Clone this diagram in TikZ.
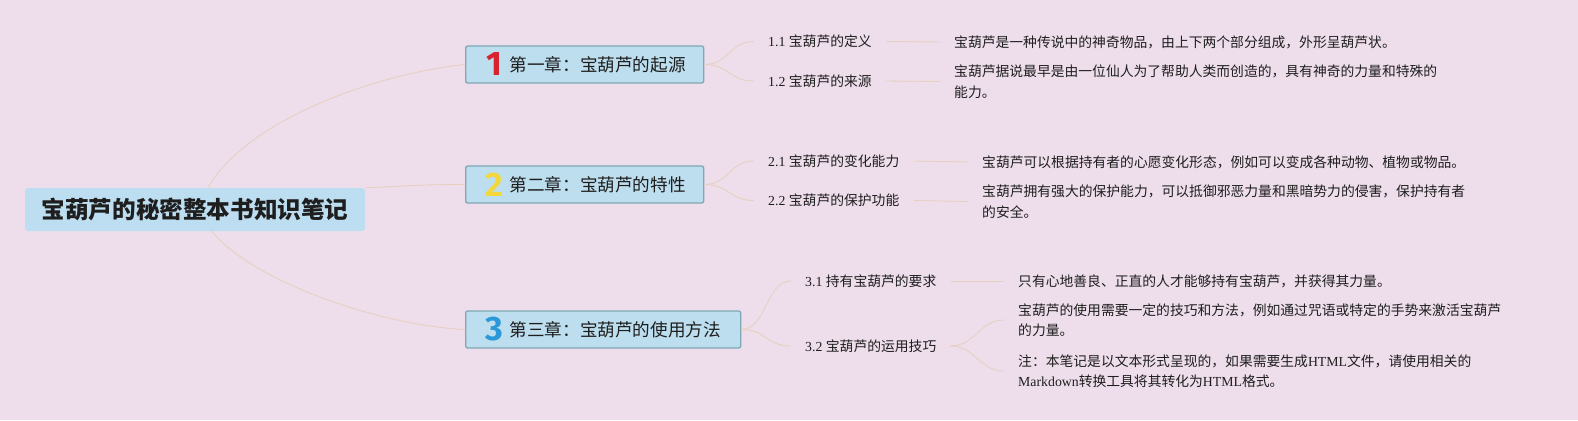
\documentclass[tikz,border=0pt]{standalone}
\usepackage{fontspec}
\setmainfont{Liberation Serif}
\newfontfamily\cjk{Noto Sans CJK SC}
\newfontfamily\digitfont{Fira Sans}
\definecolor{bgc}{RGB}{238,222,236}
\definecolor{boxfill}{RGB}{189,222,238}
\definecolor{boxline}{RGB}{127,168,180}
\definecolor{rootfill}{RGB}{189,222,240}
\definecolor{linkc}{RGB}{230,208,192}
\definecolor{txt}{RGB}{30,30,30}
\definecolor{redone}{RGB}{216,35,47}
\definecolor{yellowtwo}{RGB}{242,216,60}
\definecolor{bluethree}{RGB}{43,152,217}
\tikzset{
  link/.style={draw=linkc, line width=0.9pt},
  rootbox/.style={fill=rootfill, rounded corners=3pt, minimum width=340pt, minimum height=43pt, inner sep=0pt,
    text=txt, font=\cjk\bfseries\fontsize{23.6}{26}\selectfont},
  chbox/.style={fill=boxfill, draw=boxline, line width=1.3pt, rounded corners=2pt, minimum height=37pt, inner sep=0pt, anchor=west},
  chtext/.style={anchor=west, inner sep=0pt, text=txt, font=\cjk\fontsize{17.6}{20}\selectfont},
  digit/.style={inner sep=0pt, font=\digitfont\bfseries\fontsize{34}{36}\selectfont},
  lab/.style={anchor=west, inner xsep=14pt, inner ysep=2pt, text=txt, font=\fontsize{13.8}{20}\selectfont},
  desc/.style={anchor=west, inner xsep=14pt, inner ysep=2pt, align=left, text=txt, font=\fontsize{13.8}{20.5}\selectfont},
}
\newcommand{\zh}[1]{{\cjk #1}}
\begin{document}
\begin{tikzpicture}[x=1pt,y=-1pt]
\fill[bgc] (0,0) rectangle (1578,420);
\useasboundingbox (0,0) rectangle (1578,420);

% root
\node[rootbox] (root) at (195,209.5) {宝葫芦的秘密整本书知识笔记};

% chapters
\node[chbox, minimum width=238pt] (ch1) at (465,64.5) {};
\node[digit, text=redone] (d1) at (494,64.5) {1};
\node[chtext] (t1) at (509.5,64.5) {第一章：宝葫芦的起源};

\node[chbox, minimum width=238pt] (ch2) at (465,184.5) {};
\node[digit, text=yellowtwo] (d2) at (494,184.5) {2};
\node[chtext] (t2) at (509.5,184.5) {第二章：宝葫芦的特性};

\node[chbox, minimum width=275pt] (ch3) at (465,329.5) {};
\node[digit, text=bluethree] (d3) at (494,329.5) {3};
\node[chtext] (t3) at (509.5,329.5) {第三章：宝葫芦的使用方法};

% root links
\draw[link] ([xshift=183pt]root.north west) .. controls +(42,-72) and +(-80,8) .. (ch1.west);
\draw[link] (root.north east) .. controls +(50,-2) and +(-50,0) .. (ch2.west);
\draw[link] ([xshift=187pt]root.south west) .. controls +(40,50) and +(-85,-4) .. (ch3.west);

% labels
\node[lab] (l11) at (754,41.5) {1.1 \zh{宝葫芦的定义}};
\node[lab] (l12) at (754,81) {1.2 \zh{宝葫芦的来源}};
\node[lab] (l21) at (754,161) {2.1 \zh{宝葫芦的变化能力}};
\node[lab] (l22) at (754,200.5) {2.2 \zh{宝葫芦的保护功能}};
\node[lab] (l31) at (791,281) {3.1 \zh{持有宝葫芦的要求}};
\node[lab] (l32) at (791,346) {3.2 \zh{宝葫芦的运用技巧}};

\foreach \c/\l in {ch1/l11, ch1/l12, ch2/l21, ch2/l22, ch3/l31, ch3/l32}
  \draw[link] (\c.east) .. controls +(25,0) and +(-25,0) .. (\l.west);

% descriptions
\node[desc] (e11) at (940,42) {\zh{宝葫芦是一种传说中的神奇物品，由上下两个部分组成，外形呈葫芦状。}};
\node[desc] (e12) at (940,81.5) {\zh{宝葫芦据说最早是由一位仙人为了帮助人类而创造的，具有神奇的力量和特殊的}\\\zh{能力。}};
\node[desc] (e21) at (968,162) {\zh{宝葫芦可以根据持有者的心愿变化形态，例如可以变成各种动物、植物或物品。}};
\node[desc] (e22) at (968,201.5) {\zh{宝葫芦拥有强大的保护能力，可以抵御邪恶力量和黑暗势力的侵害，保护持有者}\\\zh{的安全。}};
\node[desc] (e31) at (1004,281) {\zh{只有心地善良、正直的人才能够持有宝葫芦，并获得其力量。}};
\node[desc] (e32a) at (1004,320) {\zh{宝葫芦的使用需要一定的技巧和方法，例如通过咒语或特定的手势来激活宝葫芦}\\\zh{的力量。}};
\node[desc] (e32b) at (1004,371) {\zh{注：本笔记是以文本形式呈现的，如果需要生成}HTML\zh{文件，请使用相关的}\\Markdown\zh{转换工具将其转化为}HTML\zh{格式。}};

\draw[link] (l11.east) -- (e11.west);
\draw[link] (l12.east) -- (e12.west);
\draw[link] (l21.east) -- (e21.west);
\draw[link] (l22.east) -- (e22.west);
\draw[link] (l31.east) -- (e31.west);
\draw[link] (l32.east) .. controls +(25,0) and +(-25,0) .. (e32a.west);
\draw[link] (l32.east) .. controls +(25,0) and +(-25,0) .. (e32b.west);
\end{tikzpicture}
\end{document}
